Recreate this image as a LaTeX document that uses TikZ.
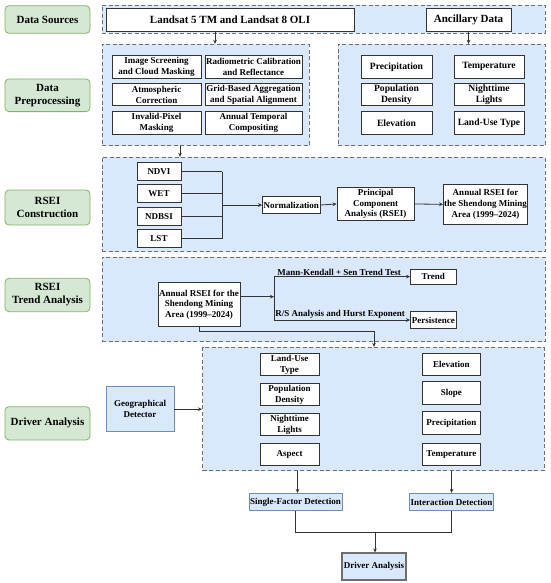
\documentclass[tikz,border=0pt]{standalone}
\usepackage{fontspec}
\setmainfont{Liberation Serif}
\usetikzlibrary{arrows.meta}
\definecolor{gfill}{HTML}{D5E8D4}
\definecolor{gline}{HTML}{82B366}
\definecolor{rfill}{HTML}{DAE8FC}
\definecolor{rline}{HTML}{6F6F6F}
\definecolor{bline}{HTML}{6C8EBF}
\definecolor{kline}{HTML}{333333}
\tikzset{
  lbl/.style={draw=gline, fill=gfill, rounded corners=4pt, line width=0.8pt, minimum width=85pt, align=center, inner sep=0pt, font=\fontsize{11}{13}\selectfont\bfseries},
  region/.style={draw=rline, fill=rfill, dash pattern=on 4pt off 2.5pt, line width=0.9pt, inner sep=0pt},
  wbox/.style={draw=kline, fill=white, line width=0.8pt, align=center, inner sep=0pt, font=\fontsize{9}{10.8}\selectfont\bfseries},
  abox/.style={wbox, font=\fontsize{9.6}{11.5}\selectfont\bfseries},
  bbox/.style={draw=bline, fill=rfill, line width=0.8pt, align=center, inner sep=0pt, font=\fontsize{9}{10.8}\selectfont\bfseries},
  conn/.style={draw=kline, line width=0.8pt},
  arr/.style={conn, -{Stealth[length=4pt,width=3.6pt]}},
  elab/.style={above, inner sep=1pt, font=\fontsize{9}{10.8}\selectfont\bfseries},
}
\begin{document}
\begin{tikzpicture}[x=1pt,y=-1pt]
\useasboundingbox (0,0) rectangle (550,583);

% left labels
\node[lbl, minimum height=27.6pt] (lDS) at (47.5,19.5) {Data Sources};
\node[lbl, minimum height=32.7pt] (lDP) at (47.5,95.3) {Data\\Preprocessing};
\node[lbl, minimum height=35pt] (lRC) at (47.5,207.5) {RSEI\\Construction};
\node[lbl, minimum height=33.4pt] (lTA) at (47.5,295) {RSEI\\Trend Analysis};
\node[lbl, minimum height=33.3pt] (lDA) at (47.5,423.3) {Driver Analysis};

% regions
\node[region, minimum width=443pt, minimum height=28.3pt] (regDS) at (323.5,19.15) {};
\node[region, minimum width=207pt, minimum height=101.4pt] (regPL) at (205.5,95) {};
\node[region, minimum width=207pt, minimum height=101.4pt] (regPR) at (441.5,95) {};
\node[region, minimum width=443pt, minimum height=94.4pt] (regRC) at (323.5,204.5) {};
\node[region, minimum width=443pt, minimum height=84.4pt] (regTA) at (323.5,299.5) {};
\node[region, minimum width=341.5pt, minimum height=123.4pt] (regDA) at (373.25,409) {};

% data sources
\node[wbox, minimum width=248pt, minimum height=22.7pt, font=\fontsize{11}{13}\selectfont\bfseries] (landsat) at (230,19.65) {Landsat 5 TM and Landsat 8 OLI};
\node[wbox, minimum width=85pt, minimum height=22.7pt, font=\fontsize{11}{13}\selectfont\bfseries] (ancil) at (468.5,19.65) {Ancillary Data};
\draw[arr] (215,0 |- landsat.south) -- (215,0 |- regPL.north);
\draw[arr] (ancil.south) -- (ancil.south |- regPR.north);

% preprocessing left
\node[wbox, minimum width=89pt, minimum height=22.5pt] (p1) at (156.5,66.7) {Image Screening\\and Cloud Masking};
\node[wbox, minimum width=97pt, minimum height=22.5pt] (p2) at (253.5,66.7) {Radiometric Calibration\\and Reflectance};
\node[wbox, minimum width=89pt, minimum height=22.5pt] (p3) at (156.5,94.65) {Atmospheric\\Correction};
\node[wbox, minimum width=97pt, minimum height=22.5pt] (p4) at (253.5,94.65) {Grid-Based Aggregation\\and Spatial Alignment};
\node[wbox, minimum width=89pt, minimum height=22.5pt] (p5) at (156.5,123) {Invalid-Pixel\\Masking};
\node[wbox, minimum width=97pt, minimum height=22.5pt] (p6) at (253.5,123) {Annual Temporal\\Compositing};

% preprocessing right
\node[abox, minimum width=71pt, minimum height=22.5pt] (q1) at (396.5,66.7) {Precipitation};
\node[abox, minimum width=70pt, minimum height=22.5pt] (q2) at (489,66.7) {Temperature};
\node[abox, minimum width=71pt, minimum height=22.5pt] (q3) at (396.5,94.65) {Population\\Density};
\node[abox, minimum width=70pt, minimum height=22.5pt] (q4) at (489,94.65) {Nighttime\\Lights};
\node[abox, minimum width=71pt, minimum height=22.5pt] (q5) at (396.5,123) {Elevation};
\node[abox, minimum width=70pt, minimum height=22.5pt] (q6) at (489,123) {Land-Use Type};

\draw[arr] (180,0 |- regPL.south) -- (180,0 |- regRC.north);

% RSEI construction
\node[wbox, minimum width=44pt, minimum height=18pt] (ndvi) at (159,171.5) {NDVI};
\node[wbox, minimum width=44pt, minimum height=18pt] (wet) at (159,193.65) {WET};
\node[wbox, minimum width=44pt, minimum height=18pt] (ndbsi) at (159,216.35) {NDBSI};
\node[wbox, minimum width=44pt, minimum height=18pt] (lst) at (159,238.65) {LST};
\node[wbox, minimum width=57.5pt, minimum height=16.6pt] (norm) at (291.25,205) {Normalization};
\node[wbox, minimum width=77pt, minimum height=33.4pt] (pca) at (375.5,204) {Principal\\Component\\Analysis (RSEI)};
\node[wbox, minimum width=84pt, minimum height=40pt] (ann) at (485.5,204.3) {Annual RSEI for\\the Shendong Mining\\Area (1999--2024)};
\coordinate (busT) at (222,171.5);
\coordinate (busB) at (222,238.65);
\draw[conn] (ndvi.east) -- (ndvi.east -| busT);
\draw[conn] (wet.east) -- (wet.east -| busT);
\draw[conn] (ndbsi.east) -- (ndbsi.east -| busT);
\draw[conn] (lst.east) -- (lst.east -| busT);
\draw[conn] (busT) -- (busB);
\draw[arr] (busT |- norm.west) -- (norm.west);
\draw[arr] (norm.east) -- (pca.west);
\draw[arr] (pca.east) -- (ann.west);

% trend analysis
\node[wbox, minimum width=82pt, minimum height=44pt] (a2) at (199,304.7) {Annual RSEI for the\\Shendong Mining\\Area (1999--2024)};
\node[wbox, minimum width=45.5pt, minimum height=14.7pt] (trend) at (433.25,276.65) {Trend};
\node[wbox, minimum width=45.5pt, minimum height=16.6pt] (pers) at (433.25,320) {Persistence};
\coordinate (tb1) at (274,276.65);
\coordinate (tb2) at (274,320);
\draw[conn] (tb1) -- (tb2);
\draw[arr] ([yshift=8pt]a2.east) -- ([yshift=8pt]a2.east -| tb1);
\draw[arr] (tb1) -- (trend.west) node[elab, midway, xshift=-3pt] {Mann-Kendall + Sen Trend Test};
\draw[arr] (tb2) -- (pers.west) node[elab, midway, xshift=-2pt] {R/S Analysis and Hurst Exponent};
\coordinate (dj) at (374,331.3);
\draw[arr] (a2.south) |- (dj) -- (dj |- regDA.north);

% driver analysis
\node[bbox, minimum width=68pt, minimum height=45pt] (gd) at (140,409.2) {Geographical\\Detector};
\draw[arr] (gd.east) -- (gd.east -| regDA.west);
\node[wbox, minimum width=59pt, minimum height=22.4pt] (d1) at (289.5,364.5) {Land-Use\\Type};
\node[wbox, minimum width=59pt, minimum height=22.4pt] (d2) at (289.5,394.65) {Population\\Density};
\node[wbox, minimum width=59pt, minimum height=22.4pt] (d3) at (289.5,424.65) {Nighttime\\Lights};
\node[wbox, minimum width=59pt, minimum height=22.4pt] (d4) at (289.5,454.3) {Aspect};
\node[wbox, minimum width=58.7pt, minimum height=22.4pt] (e1) at (451.35,364.5) {Elevation};
\node[wbox, minimum width=58.7pt, minimum height=22.4pt] (e2) at (451.35,392.85) {Slope};
\node[wbox, minimum width=58.7pt, minimum height=22.4pt] (e3) at (451.35,423) {Precipitation};
\node[wbox, minimum width=58.7pt, minimum height=22.4pt] (e4) at (451.35,454.3) {Temperature};

\node[bbox, minimum width=93pt, minimum height=17.4pt] (sfd) at (295.5,502) {Single-Factor Detection};
\node[bbox, minimum width=84.2pt, minimum height=17.4pt] (idt) at (451.6,502) {Interaction Detection};
\draw[arr] (297.5,0 |- regDA.south) -- (297.5,0 |- sfd.north);
\draw[arr] (idt.north |- regDA.south) -- (idt.north);
\node[bbox, draw=rline, line width=1.1pt, minimum width=64pt, minimum height=27pt] (fin) at (374,566.5) {Driver Analysis};
\coordinate (hj) at (375,532.5);
\draw[conn] (sfd.south) |- (idt.south |- hj) -- (idt.south);
\draw[arr] (hj) -- (hj |- fin.north);
\end{tikzpicture}
\end{document}
